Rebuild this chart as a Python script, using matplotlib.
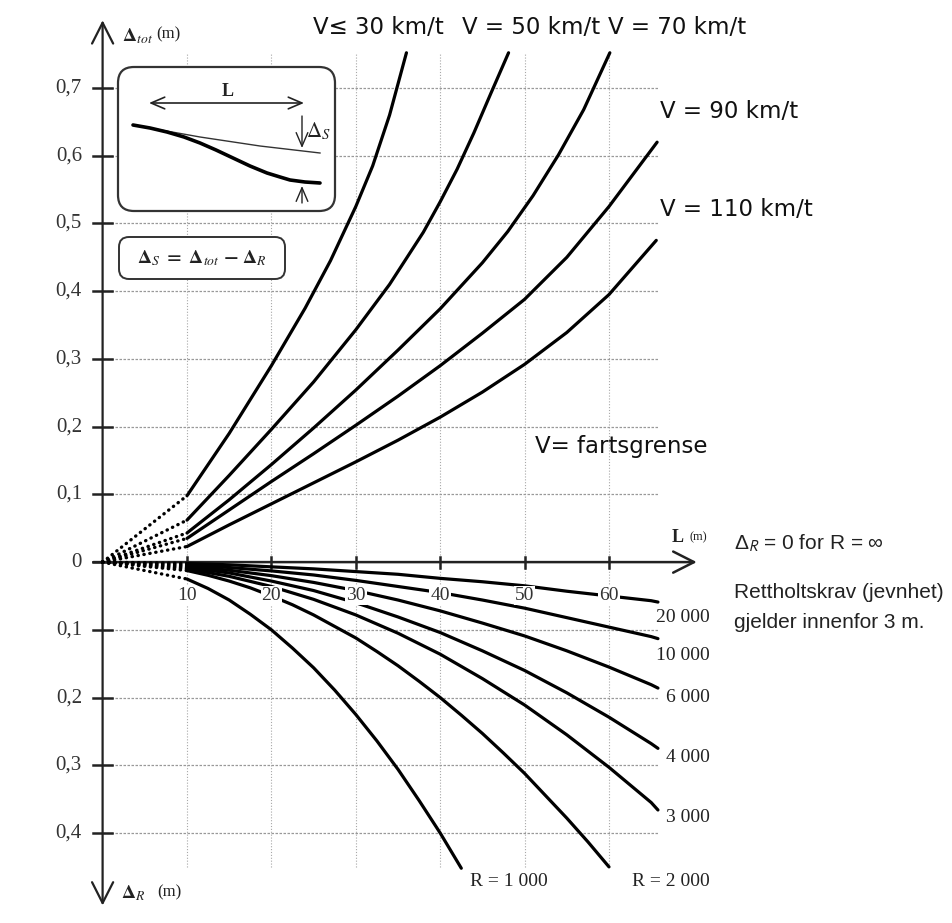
import matplotlib
matplotlib.use('Agg')
import matplotlib.pyplot as plt
from matplotlib.patches import FancyBboxPatch

plt.rcParams['mathtext.fontset'] = 'stix'

# ---------------- data ----------------
# Total deviation curves Delta_tot (m) versus chord length L (m)
L_v30 = [10, 15, 20, 24, 27, 30, 32, 34, 36.0]
d_v30 = [0.098, 0.19, 0.29, 0.375, 0.445, 0.525, 0.585, 0.66, 0.752]
L_v50 = [10, 15, 20, 25, 30, 34, 38, 40, 42, 44, 46, 48.1]
d_v50 = [0.062, 0.128, 0.196, 0.266, 0.343, 0.41, 0.487, 0.532, 0.58, 0.634, 0.692, 0.752]
L_v70 = [10, 15, 20, 25, 30, 35, 40, 45, 48, 51, 54, 57, 60.1]
d_v70 = [0.043, 0.092, 0.144, 0.198, 0.254, 0.313, 0.374, 0.442, 0.488, 0.541, 0.601, 0.668, 0.752]
L_v90 = [10, 15, 20, 25, 30, 35, 40, 45, 50, 55, 60, 63, 65.7]
d_v90 = [0.035, 0.077, 0.119, 0.16, 0.202, 0.245, 0.29, 0.338, 0.388, 0.45, 0.525, 0.575, 0.62]
L_v110 = [10, 15, 20, 25, 30, 35, 40, 45, 50, 55, 60, 65.6]
d_v110 = [0.023, 0.055, 0.086, 0.117, 0.148, 0.18, 0.214, 0.251, 0.292, 0.339, 0.395, 0.475]

speed_labels = ["V\u2264 30 km/t", "V = 50 km/t", "V = 70 km/t",
                "V = 90 km/t", "V = 110 km/t", "V= fartsgrense"]

# Radius deviation curves Delta_R (m), drawn downwards
L_r1000 = [10, 12.5, 15, 17.5, 20, 22.5, 25, 27.5, 30, 32.5, 35, 37.5, 40, 42.5]
d_r1000 = [-0.025, -0.039, -0.056, -0.077, -0.1, -0.127, -0.156, -0.189, -0.225,
           -0.264, -0.306, -0.352, -0.4, -0.452]
L_r2000 = [10, 12.5, 15, 17.5, 20, 22.5, 25, 27.5, 30, 32.5, 35, 37.5, 40, 42.5,
           45, 47.5, 50, 52.5, 55, 57.5, 60]
d_r2000 = [-0.0125, -0.0195, -0.028, -0.038, -0.05, -0.063, -0.078, -0.095, -0.112,
           -0.132, -0.153, -0.176, -0.2, -0.226, -0.253, -0.282, -0.312, -0.345,
           -0.378, -0.413, -0.45]
L_rlong = [10, 15, 20, 25, 30, 35, 40, 45, 50, 55, 60, 65, 65.8]
d_r3000 = [-0.010, -0.021, -0.036, -0.055, -0.078, -0.105, -0.136, -0.172, -0.211, -0.255, -0.303, -0.355, -0.366]
d_r4000 = [-0.008, -0.016, -0.028, -0.042, -0.060, -0.081, -0.104, -0.131, -0.160, -0.193, -0.229, -0.268, -0.275]
d_r6000 = [-0.006, -0.012, -0.020, -0.030, -0.042, -0.056, -0.072, -0.090, -0.109, -0.131, -0.155, -0.181, -0.186]
d_r10000 = [-0.004, -0.008, -0.013, -0.019, -0.027, -0.036, -0.045, -0.056, -0.068, -0.082, -0.096, -0.110, -0.113]
d_r20000 = [-0.002, -0.004, -0.007, -0.010, -0.014, -0.018, -0.024, -0.029, -0.035, -0.043, -0.050, -0.057, -0.059]

radius_labels = ["R = 1 000", "R = 2 000", "3 000", "4 000", "6 000", "10 000", "20 000"]

y_tick_values = [0.7, 0.6, 0.5, 0.4, 0.3, 0.2, 0.1, 0.0, -0.1, -0.2, -0.3, -0.4]
x_tick_values = [10, 20, 30, 40, 50, 60]

# ---------------- figure ----------------
W, H = 952, 923
fig = plt.figure(figsize=(W / 100, H / 100), dpi=100)
fig.patch.set_facecolor('white')
ax = fig.add_axes([0, 0, 1, 1])
x0px, pxL = 102.6, 8.44
y0px, pxD = 562.1, 677.3
ax.set_xlim(-x0px / pxL, (W - x0px) / pxL)
ax.set_ylim(-(H - y0px) / pxD, y0px / pxD)
ax.axis('off')

# overlay in pixel coordinates for annotations
ov = fig.add_axes([0, 0, 1, 1])
ov.set_xlim(0, W)
ov.set_ylim(H, 0)
ov.axis('off')
ov.patch.set_alpha(0)

SERIF = ['Liberation Serif', 'DejaVu Serif']
SANS = ['Liberation Sans', 'DejaVu Sans']
WIDE = ['DejaVu Sans']

# grid
for xv in x_tick_values:
    ax.plot([xv, xv], [-0.45, 0.752], color='#a8a8a8', lw=0.8,
            linestyle=(0, (1, 1.6)), zorder=1)
for yv in y_tick_values:
    if yv != 0:
        ax.plot([0, 65.8], [yv, yv], color='#999999', lw=0.9,
                linestyle=(0, (2, 1.2)), zorder=1)

# axes with arrows
ax.annotate('', xy=(0, 0.80), xytext=(0, -0.507),
            arrowprops=dict(arrowstyle='<->,head_length=0.75,head_width=0.38',
                            lw=1.6, color='#222222', shrinkA=0, shrinkB=0,
                            mutation_scale=20), zorder=3)
ax.annotate('', xy=(70.4, 0), xytext=(-1.1, 0),
            arrowprops=dict(arrowstyle='->,head_length=0.75,head_width=0.38',
                            lw=1.8, color='#222222', shrinkA=0, shrinkB=0,
                            mutation_scale=20), zorder=3)

# ticks
for yv in y_tick_values:
    ax.plot([-1.1, 1.1], [yv, yv], color='#222222', lw=1.8, zorder=3)
    lab = '0' if yv == 0 else ('%.1f' % abs(yv)).replace('.', ',')
    ax.text(-2.45, yv, lab, ha='right', va='center', fontsize=15,
            family=SERIF, color='#333333')
for xv in x_tick_values:
    ax.plot([xv, xv], [-0.008, 0.008], color='#222222', lw=1.8, zorder=3)

DOTS = (0, (0.1, 1.7))

# speed curves
speed_series = [(L_v30, d_v30), (L_v50, d_v50), (L_v70, d_v70),
                (L_v90, d_v90), (L_v110, d_v110)]
for Ls, ds in speed_series:
    ax.plot(Ls, ds, color='black', lw=2.3, solid_capstyle='round',
            solid_joinstyle='round', zorder=4)
    ax.plot([0, Ls[0]], [0, ds[0]], color='black', lw=2.4,
            linestyle=DOTS, dash_capstyle='round', zorder=4)

# radius curves
radius_series = [(L_r1000, d_r1000), (L_r2000, d_r2000), (L_rlong, d_r3000),
                 (L_rlong, d_r4000), (L_rlong, d_r6000), (L_rlong, d_r10000),
                 (L_rlong, d_r20000)]
for Ls, ds in radius_series:
    ax.plot(Ls, ds, color='black', lw=2.3, solid_capstyle='round',
            solid_joinstyle='round', zorder=4)
    ax.plot([0, Ls[0]], [0, ds[0]], color='black', lw=2.4,
            linestyle=DOTS, dash_capstyle='round', zorder=4)

# x tick labels (over the curves)
for xv in x_tick_values:
    ax.text(xv, -0.05, str(xv), ha='center', va='center', fontsize=14,
            family=SERIF, color='#333333', zorder=6,
            bbox=dict(boxstyle='square,pad=0.05', fc='white', ec='none'))

# speed labels
speed_pos = [(313, 27), (462, 27), (608, 27), (660, 112), (660, 210), (535, 447)]
for lab, (px, py) in zip(speed_labels, speed_pos):
    ov.text(px, py, lab, ha='left', va='center', fontsize=16.5, family=WIDE,
            color='#111111')

# radius labels
r_pos = [(548, 882), (710, 882), (710, 818), (710, 757), (710, 697), (710, 655), (710, 617)]
for lab, (px, py) in zip(radius_labels, r_pos):
    ov.text(px, py, lab, ha='right', va='center', fontsize=14, family=SERIF,
            color='#222222')

# axis captions
ov.text(122, 36, r'$\mathbf{\Delta}_{\mathit{tot}}$', ha='left', va='center',
        fontsize=14, color='#222222')
ov.text(156, 34, '(m)', ha='left', va='center', fontsize=12, family=SERIF,
        color='#222222')
ov.text(121, 893, r'$\mathbf{\Delta}_{\mathit{R}}$', ha='left', va='center',
        fontsize=14, color='#222222')
ov.text(157, 892, '(m)', ha='left', va='center', fontsize=12, family=SERIF,
        color='#222222')
ov.text(672, 537, 'L', ha='left', va='center', fontsize=13, family=SERIF,
        weight='bold', color='#222222')
ov.text(690, 537, '(m)', ha='left', va='center', fontsize=9, family=SERIF,
        color='#222222')

# notes on right
ov.text(734, 543, '\u0394$_{\\mathsf{R}}$ = 0 for R = \u221e', ha='left', va='center',
        fontsize=15, family=SANS, color='#222222')
ov.text(734, 593, 'Rettholtskrav (jevnhet)', ha='left', va='center',
        fontsize=15, family=SANS, color='#222222')
ov.text(734, 622, 'gjelder innenfor 3 m.', ha='left', va='center',
        fontsize=15, family=SANS, color='#222222')

# inset sketch box
box = FancyBboxPatch((118, 67), 217, 144, boxstyle='round,pad=0,rounding_size=16',
                     fc='white', ec='#333333', lw=1.6, zorder=5)
ov.add_patch(box)
ov.annotate('', xy=(304, 103), xytext=(149, 103),
            arrowprops=dict(arrowstyle='<->,head_length=0.7,head_width=0.3',
                            lw=1.2, color='#222222', shrinkA=0, shrinkB=0,
                            mutation_scale=14), zorder=6)
ov.text(228, 100, 'L', ha='center', va='bottom', fontsize=13, family=SERIF,
        weight='bold', color='#222222', zorder=6)
ov.plot([133, 200, 260, 320], [125, 137, 146, 153], color='#333333', lw=1.0, zorder=6)
ov.plot([133, 150, 167, 184, 200, 216, 233, 250, 267, 280, 290, 305, 320],
        [125, 128, 132, 137, 143, 150, 158, 166, 173, 177, 180, 182, 183],
        color='black', lw=2.6, solid_capstyle='round', solid_joinstyle='round', zorder=6)
ov.annotate('', xy=(302, 148), xytext=(302, 116),
            arrowprops=dict(arrowstyle='->,head_length=0.7,head_width=0.3',
                            lw=1.0, color='#222222', shrinkA=0, shrinkB=0,
                            mutation_scale=14), zorder=6)
ov.annotate('', xy=(302, 186), xytext=(302, 203),
            arrowprops=dict(arrowstyle='->,head_length=0.7,head_width=0.3',
                            lw=1.0, color='#222222', shrinkA=0, shrinkB=0,
                            mutation_scale=14), zorder=6)
ov.text(306, 131, r'$\Delta_S$', ha='left', va='center', fontsize=15,
        color='#222222', zorder=6)

# formula box
box2 = FancyBboxPatch((119, 237), 166, 42, boxstyle='round,pad=0,rounding_size=10',
                      fc='white', ec='#333333', lw=1.4, zorder=5)
ov.add_patch(box2)
ov.text(202, 258, r'$\mathbf{\Delta}_{\mathit{S}}\ \mathbf{=}\ \mathbf{\Delta}_{\mathit{tot}}\ \mathbf{-}\ \mathbf{\Delta}_{\mathit{R}}$',
        ha='center', va='center', fontsize=14, color='#222222', zorder=6)

fig.savefig('out.png', dpi=100, facecolor='white')
